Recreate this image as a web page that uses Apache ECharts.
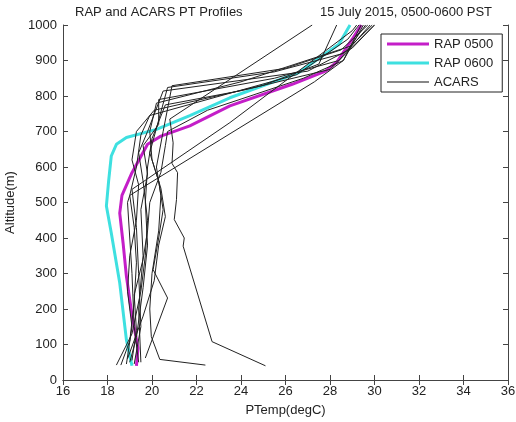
<!DOCTYPE html>
<html>
<head>
<meta charset="utf-8">
<script src="https://cdn.jsdelivr.net/npm/echarts@6/dist/echarts.min.js"></script>
<style>
html,body{margin:0;padding:0;background:#fff;}
#chart{width:516px;height:422px;}
</style>
</head>
<body>
<div id="chart"></div>
<script>
// [PTemp degC, altitude m]
var rap0500 = [[19.3,40],[19.37,90],[19.1,183],[18.85,292],[18.7,386],[18.55,470],[18.65,520],[19.1,584],[19.8,664],[20.4,687],[21.7,716],[23.5,772],[26.3,833],[27.8,870],[28.3,895],[29.0,960],[29.4,1000]];
var rap0600 = [[19.1,40],[18.85,113],[18.55,273],[18.17,414],[17.95,490],[18.05,560],[18.17,631],[18.4,664],[18.85,683],[20.2,706],[21.7,745],[23.5,795],[26.6,866],[28.4,946],[28.9,1000]];

var acars1 = [[25.1,40],[22.7,108],[21.4,377],[21.45,400],[21.0,452],[21.1,508],[21.15,584],[20.9,610],[20.95,668],[20.8,735],[27.2,1000]];
var acars2 = [[22.4,42],[20.35,58],[19.97,122],[19.9,200],[20.0,300],[20.3,420],[20.4,520],[20.2,600],[20.5,700],[20.9,829],[26.0,878],[28.5,930],[29.7,1000]];
var acars3 = [[19.7,62],[20.7,231],[20.05,311],[20.3,400],[20.5,480],[20.3,560],[19.9,640],[20.7,824],[25.5,868],[28.6,920],[29.9,1000]];
var acars4 = [[18.4,42],[19.1,130],[19.5,250],[19.7,350],[19.8,450],[19.6,560],[19.4,640],[19.8,700],[20.5,814],[27.0,870],[29.0,935],[30.0,1000]];
var acars5 = [[18.6,42],[19.0,110],[19.2,220],[19.3,330],[19.2,430],[19.0,520],[19.3,600],[19.5,690],[19.9,745],[26.5,860],[28.8,960],[29.3,1000]];
var acars6 = [[18.85,45],[19.1,150],[18.9,250],[19.0,350],[19.3,450],[19.4,550],[19.1,620],[19.3,700],[20.1,760],[25.0,830],[27.5,890],[28.3,1000]];
var acars7 = [[19.0,50],[19.3,120],[19.6,260],[19.8,380],[19.7,500],[19.8,600],[20.0,680],[20.6,775],[24.0,815],[28.0,875],[30.0,1000]];
var acars8 = [[19.4,50],[19.2,150],[19.1,300],[19.0,400],[18.9,500],[19.0,520],[27.3,840],[28.6,900],[29.5,1000]];
var acars9 = [[19.2,45],[19.5,150],[19.4,300],[19.3,430],[19.1,537],[23.5,725],[29.0,984],[29.2,1000]];
var acars10 = [[19.5,50],[19.4,200],[19.6,350],[19.5,480],[19.8,580],[19.6,660],[20.3,720],[20.3,790],[25.5,850],[28.4,900],[29.8,1000]];
var acars11 = [[18.9,60],[19.6,180],[20.1,280],[20.3,380],[20.6,460],[20.4,540],[20.0,620],[19.9,700],[20.2,780],[24.0,840],[28.9,940],[29.6,1000]];
var acars12 = [[19.1,55],[19.3,140],[19.2,240],[19.6,340],[19.8,420],[19.9,500],[20.4,585],[20.6,660],[20.7,700],[22.5,760],[26.8,850],[28.6,900],[29.4,1000]];

var acarsList = [acars1,acars2,acars3,acars4,acars5,acars6,acars7,acars8,acars9,acars10,acars11,acars12];

var font = 'Liberation Sans, Arial, sans-serif';
var chart = echarts.init(document.getElementById('chart'));

var series = [
    {name:'RAP 0500', type:'line', data:rap0500, symbol:'none', color:'#c41ec8',
     lineStyle:{width:3, color:'#c41ec8'}, z:2},
    {name:'RAP 0600', type:'line', data:rap0600, symbol:'none', color:'#3ee0e0',
     lineStyle:{width:3, color:'#3ee0e0'}, z:2}
];
acarsList.forEach(function(d){
    series.push({name:'ACARS', type:'line', data:d, symbol:'none', color:'#111',
        lineStyle:{width:1, color:'#222'}, z:3});
});

var axisCommonX = {type:'value', min:16, max:36, interval:2,
    axisLine:{lineStyle:{color:'#444'}}, axisTick:{inside:true, length:5, lineStyle:{color:'#444'}},
    splitLine:{show:false}};
var axisCommonY = {type:'value', min:0, max:1000, interval:100,
    axisLine:{lineStyle:{color:'#444'}}, axisTick:{inside:true, length:5, lineStyle:{color:'#444'}},
    splitLine:{show:false}};

var options = {
    animation:false,
    backgroundColor:'#fff',
    title:[
        {text:'RAP and ACARS PT Profiles', left:70, top:1,
         textStyle:{fontFamily:font, fontSize:13, fontWeight:'normal', color:'#222'}},
        {text:'15 July 2015, 0500-0600 PST', right:19, top:1,
         textStyle:{fontFamily:font, fontSize:13, fontWeight:'normal', color:'#222'}}
    ],
    legend:{
        data:[
            {name:'RAP 0500', icon:'path://M0,0H42V3H0Z'},
            {name:'RAP 0600', icon:'path://M0,0H42V3H0Z'},
            {name:'ACARS', icon:'path://M0,0H42V1H0Z'}
        ],
        orient:'vertical', left:381, top:34,
        padding:[3,9,3,6],
        itemWidth:42, itemHeight:3, itemGap:5,
        borderColor:'#222', borderWidth:1, backgroundColor:'#fff',
        textStyle:{fontFamily:font, fontSize:13, color:'#222', padding:[0,0,0,0], lineHeight:14}
    },
    grid:{left:63, right:8, top:25, bottom:42, outerBoundsMode:'none'},
    xAxis:[
        Object.assign({}, axisCommonX, {position:'bottom', name:'PTemp(degC)', nameLocation:'middle', nameGap:24,
            nameTextStyle:{fontFamily:font, fontSize:13, color:'#222'},
            axisLabel:{fontFamily:font, fontSize:13, color:'#222', margin:5}}),
        Object.assign({}, axisCommonX, {position:'top', axisLabel:{show:false}})
    ],
    yAxis:[
        Object.assign({}, axisCommonY, {position:'left', name:'Altitude(m)', nameLocation:'middle', nameGap:42,
            nameTextStyle:{fontFamily:font, fontSize:13, color:'#222'},
            axisLabel:{fontFamily:font, fontSize:13, color:'#222', margin:6,
                formatter:function(v){ return String(v); }}}),
        Object.assign({}, axisCommonY, {position:'right', axisLabel:{show:false}})
    ],
    series:series
};
chart.setOption(options);
</script>
</body>
</html>
